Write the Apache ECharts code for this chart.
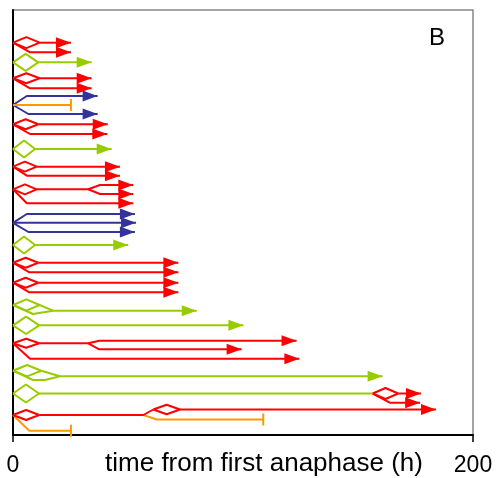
<!DOCTYPE html>
<html>
<head>
<meta charset="utf-8">
<script src="https://cdn.jsdelivr.net/npm/echarts@6/dist/echarts.min.js"></script>
<style>
  html, body { margin: 0; padding: 0; background: #fff; }
  #chart { width: 501px; height: 478px; }
</style>
</head>
<body>
<div id="chart"></div>
<script>
// time (h) on x, track position on y (top = 0)
const xTicks = [0, 200]
const xName = 'time from first anaphase (h)'
const panelLabel = 'B'

// cells ending with an arrow (still alive at end of movie)
const redArrows = [
  [[11.6, 32.7], [25.2, 32.7]],
  [[0, 32.7], [7.4, 42.3], [25.2, 42.3]],
  [[11.6, 68.3], [34.2, 68.3]],
  [[0, 68.3], [7.4, 78.3], [34.2, 78.3]],
  [[11, 114.3], [41.2, 114.3]],
  [[0, 114.3], [7.4, 124], [41, 124]],
  [[10.3, 156.7], [46.5, 156.7]],
  [[0, 156.7], [6, 165.7], [46.5, 165.7]],
  [[10.3, 179.3], [32.7, 179.3], [37.8, 175], [52.3, 175]],
  [[32.7, 179.3], [37.8, 184], [52.3, 184]],
  [[0, 179.3], [6, 193.3], [52.3, 193.3]],
  [[11, 252.7], [71.9, 252.7]],
  [[0, 252.7], [7.1, 262.3], [71.9, 262.3]],
  [[11, 272.7], [71.9, 272.7]],
  [[0, 272.7], [7.1, 282.3], [71.9, 282.3]],
  [[11.4, 333.3], [32.7, 333.3], [37.5, 330.7], [123.3, 330.7]],
  [[32.7, 333.3], [37.5, 339.3], [99.4, 339.3]],
  [[0, 333.3], [7.4, 348.8], [124.5, 348.8]],
  [[167.5, 383.5], [177.4, 383.5]],
  [[156.4, 383.5], [163.8, 392.7], [177, 392.7]],
  [[72.6, 399.5], [183.9, 399.5]]
]
const greenArrows = [
  [[11, 52.3], [34.2, 52.3]],
  [[9.6, 139], [42.9, 139]],
  [[9.6, 235], [50.1, 235]],
  [[17.4, 300.7], [79.9, 300.7]],
  [[11.4, 315.3], [100.2, 315.3]],
  [[20.4, 366.3], [160.7, 366.3]]
]
const blueArrows = [
  [[0, 95], [6, 86], [36.8, 86]],
  [[0, 95], [6.7, 104], [36.8, 104]],
  [[0, 212.8], [6, 204], [53, 204]],
  [[0, 212.8], [53.5, 212.8]],
  [[0, 212.8], [6.7, 222], [53, 222]]
]
// cells ending with a bar (cell death)
const orangeBars = [
  [[0, 95], [25.2, 95]],
  [[0, 405], [7.1, 420.7], [25.2, 420.7]],
  [[56.7, 405], [62.5, 409.5], [108.8, 409.5]]
]
// connecting segments without an end mark
const redLinks = [
  [[11.4, 405], [56.7, 405], [61, 399.5]]
]
const greenLinks = [
  [[0, 295], [8.7, 304], [17.4, 300.7]],
  [[11.6, 295], [17.4, 300.7]],
  [[0, 360.7], [8.7, 370], [13.9, 370], [20.4, 366.3]],
  [[12.3, 360.7], [20.4, 366.3]],
  [[11.3, 383.5], [156.4, 383.5]]
]
// diamonds: [t start, t end, y, half height]
const redDiamonds = [
  [0, 11.6, 32.7, 5.5], [0, 11.6, 68.3, 5], [0, 11, 114.3, 5],
  [0, 10.3, 156.7, 5], [0, 10.3, 179.3, 5], [0, 11, 252.7, 5],
  [0, 11, 272.7, 5], [0, 11.4, 333.3, 4.5], [156.4, 167.5, 383.5, 5.5],
  [0, 11.4, 405, 5], [61, 72.6, 399.5, 4.7]
]
const greenDiamonds = [
  [0, 11, 52.3, 8.5], [0, 9.6, 139, 8.5], [0, 9.6, 235, 8.5],
  [0, 11.6, 295, 5.7], [0, 11.4, 315.3, 8.7], [0, 12.3, 360.7, 5.7],
  [0, 11.3, 383.5, 9]
]

const RED = '#ff0000'
const GREEN = '#99cc00'
const BLUE = '#333399'
const ORANGE = '#ff9900'

const ARROW = { symbol: 'triangle', symbolSize: [11, 15], symbolRotate: -90, symbolOffset: [-7.5, 0] }
const BAR = { symbol: 'rect', symbolSize: [2, 12], symbolRotate: 0, symbolOffset: [0, 0] }
const NONE = { symbol: 'none', symbolSize: 0, symbolRotate: 0, symbolOffset: [0, 0] }

const series = []

const addPath = (pts, color, end) => {
  const n = pts.length
  series.push({
    type: 'line',
    data: pts.map((p, i) => (i === n - 1 ? { value: p } : { value: p, symbol: 'none' })),
    symbol: end.symbol,
    symbolSize: end.symbolSize,
    symbolRotate: end.symbolRotate,
    symbolOffset: end.symbolOffset,
    showSymbol: true,
    showAllSymbol: true,
    clip: false,
    silent: true,
    itemStyle: { color: color, opacity: 1 },
    lineStyle: { color: color, width: 2 }
  })
}

const addDiamond = (d, color) => {
  const [t0, t1, y, h] = d
  const tm = (t0 + t1) / 2
  addPath([[t0, y], [tm, y - h], [t1, y], [tm, y + h], [t0, y]], color, NONE)
}

redArrows.forEach(p => addPath(p, RED, ARROW))
greenArrows.forEach(p => addPath(p, GREEN, ARROW))
blueArrows.forEach(p => addPath(p, BLUE, ARROW))
orangeBars.forEach(p => addPath(p, ORANGE, BAR))
redLinks.forEach(p => addPath(p, RED, NONE))
greenLinks.forEach(p => addPath(p, GREEN, NONE))
redDiamonds.forEach(d => addDiamond(d, RED))
greenDiamonds.forEach(d => addDiamond(d, GREEN))

const font = 'Liberation Sans, Arial, sans-serif'

const option = {
  animation: false,
  grid: {
    left: 13, right: 28, top: 10, bottom: 43,
    outerBoundsMode: 'none',
    containLabel: false,
    show: true, borderColor: '#888', borderWidth: 1.5
  },
  xAxis: {
    type: 'value',
    min: xTicks[0],
    max: xTicks[xTicks.length - 1],
    interval: xTicks[1] - xTicks[0],
    name: xName,
    nameLocation: 'middle',
    nameGap: 16,
    nameMoveOverlap: false,
    nameTextStyle: { fontFamily: font, fontSize: 26, color: '#000', padding: [0, 0, 0, 42] },
    axisLine: { show: true, onZero: false, lineStyle: { color: '#000', width: 2 } },
    axisTick: { show: true, length: 7, lineStyle: { color: '#000', width: 1.5 } },
    axisLabel: { fontFamily: font, fontSize: 23, color: '#000', margin: 19 },
    splitLine: { show: false }
  },
  yAxis: {
    type: 'value',
    min: 0,
    max: 425,
    inverse: true,
    axisLine: { show: true, onZero: false, lineStyle: { color: '#000', width: 2 } },
    axisTick: { show: false },
    axisLabel: { show: false },
    splitLine: { show: false }
  },
  graphic: [{
    type: 'text',
    left: 429,
    top: 26,
    style: { text: panelLabel, fontFamily: font, fontSize: 24, fill: '#000' }
  }],
  series: series
}

echarts.init(document.getElementById('chart')).setOption(option)
</script>
</body>
</html>
